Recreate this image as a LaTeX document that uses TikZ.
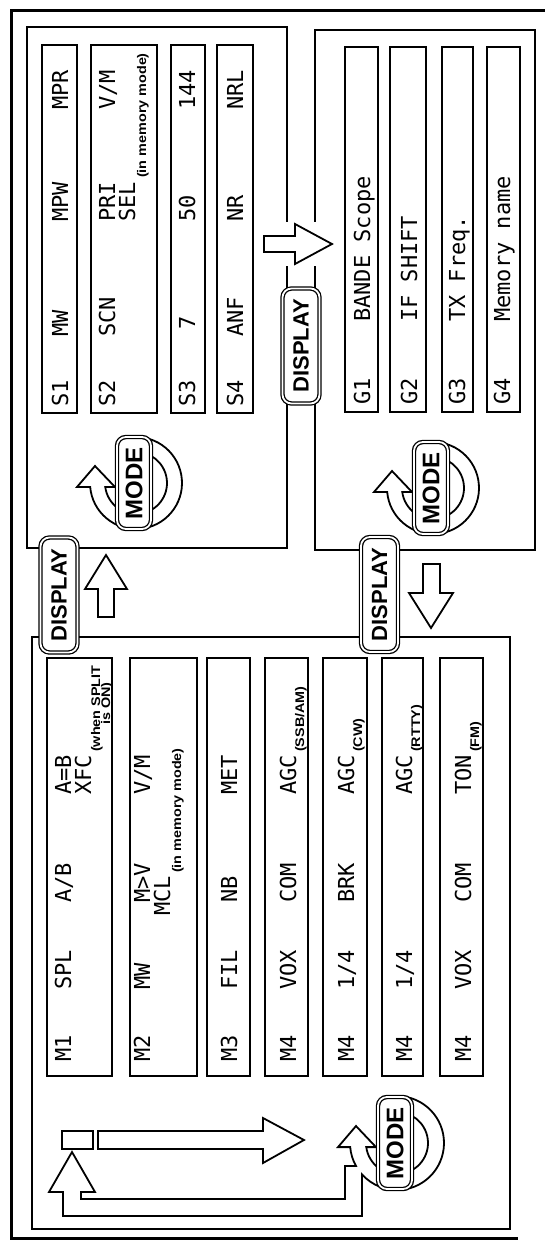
\documentclass[tikz,border=0pt]{standalone}
\usepackage{fontspec}
\newfontfamily\lcdfont{DejaVu Sans Mono}
\newfontfamily\btnfont{Liberation Sans}
\newfontfamily\notefont[FakeStretch=1.15]{Liberation Sans}
\tikzset{
  lcd/.style={rotate=90, anchor=base west, inner sep=0pt, font=\lcdfont\fontsize{22}{22}\selectfont},
  note/.style={rotate=90, anchor=base west, inner sep=0pt, font=\notefont\bfseries\fontsize{12.5}{12.5}\selectfont},
  frame/.style={line width=3pt},
  panel/.style={draw, line width=1.8pt},
  strip/.style={draw, line width=1.6pt},
  blockarrow/.style={draw, fill=white, line width=1.8pt, line join=miter},
  btn/.style={rotate=90, draw, fill=white, line width=1.3pt, double, double distance=1.8pt, rounded corners=9pt, inner sep=0pt, font=\btnfont\bfseries},
  dispbtn/.style={btn, minimum width=115pt, minimum height=37pt, font=\btnfont\bfseries\fontsize{22}{22}\selectfont},
  modebtn/.style={btn, minimum width=92pt, minimum height=34pt, font=\btnfont\bfseries\fontsize{24}{24}\selectfont},
}
\newcommand\lcdat[4]{\node[lcd] (#1) at (#2,-#3) {#4};}
\newcommand\noteat[4]{\node[note] (#1) at (#2,-#3) {#4};}
\newcommand\modering[2]{%
  \draw[blockarrow] (95:#1pt) arc[start angle=95, end angle=-175, radius=#1pt]
    -- (-59,-4) -- (-41,17) -- (-21,-4) -- (-172.6:#2pt)
    arc[start angle=-172.6, end angle=95, radius=#2pt] -- cycle;}

\begin{document}
\begin{tikzpicture}[x=1pt,y=1pt]
\useasboundingbox (0,0) rectangle (545,-1242);
\fill[white] (0,0) rectangle (545,-1242);

% outer frame
\draw[frame] (545,-10) -- (11,-10) -- (11,-1238) -- (518,-1238);

% panels
\draw[panel] (27,-27) rectangle (287,-548);
\draw[panel] (315,-30) rectangle (535,-550);
\draw[panel] (32,-637) rectangle (510,-1229);

% S strips
\draw[strip] (42,-45) rectangle (77,-413);
\draw[strip] (91,-45) rectangle (157,-413);
\draw[strip] (171,-45) rectangle (205,-413);
\draw[strip] (217,-45) rectangle (253,-413);
% G strips
\draw[strip] (345,-47) rectangle (378,-412);
\draw[strip] (390,-47) rectangle (426,-412);
\draw[strip] (442,-47) rectangle (473,-412);
\draw[strip] (487,-47) rectangle (520,-412);
% M strips
\draw[strip] (47,-658) rectangle (112,-1076);
\draw[strip] (130,-658) rectangle (197,-1076);
\draw[strip] (207,-658) rectangle (250,-1076);
\draw[strip] (265,-658) rectangle (308,-1076);
\draw[strip] (323,-658) rectangle (367,-1076);
\draw[strip] (382,-658) rectangle (423,-1076);
\draw[strip] (440,-658) rectangle (483,-1076);

% S texts
\lcdat{sa1}{68}{407}{S1}
\lcdat{sa2}{68}{337}{MW}
\lcdat{sa3}{68}{222}{MPW}
\lcdat{sa4}{68}{110}{MPR}
\lcdat{sb1}{115}{407}{S2}
\lcdat{sb2}{115}{337}{SCN}
\lcdat{sb3}{115}{222}{PRI}
\lcdat{sb4}{115}{110}{V/M}
\lcdat{sb5}{135}{222}{SEL}
\noteat{sb6}{146}{178}{(in memory mode)}
\lcdat{sc1}{195}{407}{S3}
\lcdat{sc2}{195}{330}{7}
\lcdat{sc3}{195}{222}{50}
\lcdat{sc4}{195}{110}{144}
\lcdat{sd1}{243}{407}{S4}
\lcdat{sd2}{243}{337}{ANF}
\lcdat{sd3}{243}{222}{NR}
\lcdat{sd4}{243}{110}{NRL}

% G texts
\lcdat{ga1}{370}{405}{G1}
\lcdat{ga2}{370}{322}{BANDE Scope}
\lcdat{gb1}{417}{405}{G2}
\lcdat{gb2}{417}{322}{IF SHIFT}
\lcdat{gc1}{465}{405}{G3}
\lcdat{gc2}{465}{322}{TX Freq.}
\lcdat{gd1}{510}{405}{G4}
\lcdat{gd2}{510}{322}{Memory name}

% M texts
\lcdat{ma1}{71}{1062}{M1}
\lcdat{ma2}{71}{990}{SPL}
\lcdat{ma3}{71}{903}{A/B}
\lcdat{ma4}{71}{795}{A=B}
\lcdat{ma5}{91}{795}{XFC}
\noteat{ma6}{100}{752}{(when SPLIT}
\noteat{ma7}{110}{725}{is ON)}
\lcdat{mb1}{150}{1062}{M2}
\lcdat{mb2}{150}{990}{MW}
\lcdat{mb3}{150}{903}{M>V}
\lcdat{mb4}{150}{795}{V/M}
\lcdat{mb5}{170}{916}{MCL}
\noteat{mb6}{181}{873}{(in memory mode)}
\lcdat{mc1}{237}{1062}{M3}
\lcdat{mc2}{237}{990}{FIL}
\lcdat{mc3}{237}{903}{NB}
\lcdat{mc4}{237}{795}{MET}
\lcdat{md1}{296}{1062}{M4}
\lcdat{md2}{296}{990}{VOX}
\lcdat{md3}{296}{903}{COM}
\lcdat{md4}{296}{795}{AGC}
\noteat{md5}{304}{752}{(SSB/AM)}
\lcdat{me1}{354}{1062}{M4}
\lcdat{me2}{354}{990}{1/4}
\lcdat{me3}{354}{903}{BRK}
\lcdat{me4}{354}{795}{AGC}
\noteat{me5}{362}{752}{(CW)}
\lcdat{mf1}{412}{1062}{M4}
\lcdat{mf2}{412}{990}{1/4}
\lcdat{mf3}{412}{795}{AGC}
\noteat{mf4}{420}{752}{(RTTY)}
\lcdat{mg1}{471}{1062}{M4}
\lcdat{mg2}{471}{990}{VOX}
\lcdat{mg3}{471}{903}{COM}
\lcdat{mg4}{471}{795}{TON}
\noteat{mg5}{479}{752}{(FM)}

% gap in panel borders for the S->G arrow
\fill[white] (279,-222) rectangle (323,-266);
% S -> G arrow
\draw[blockarrow] (264,-236) -- (295,-236) -- (295,-224) -- (332,-244) -- (295,-264) -- (295,-252) -- (264,-252) -- cycle;
% M -> S arrow (up)
\draw[blockarrow] (98,-617) -- (98,-589) -- (85,-589) -- (106,-555) -- (127,-589) -- (114,-589) -- (114,-617) -- cycle;
% G -> M arrow (down)
\draw[blockarrow] (423,-564) -- (440,-564) -- (440,-593) -- (453,-593) -- (431,-628) -- (409,-593) -- (423,-593) -- cycle;

% DISPLAY buttons
\node[dispbtn] (disp1) at (301,-346) {DISPLAY};
\node[dispbtn] (disp2) at (59,-595) {DISPLAY};
\node[dispbtn] (disp3) at (379.5,-594.5) {DISPLAY};

% MODE symbols in S and G panels
\begin{scope}[shift={(136,-483)}]
  \modering{46}{31}
  \node[modebtn] (modeS) at (-2,0) {MODE};
\end{scope}
\begin{scope}[shift={(433,-488)}]
  \modering{46}{31}
  \node[modebtn] (modeG) at (-2,0) {MODE};
\end{scope}

% M panel: cursor box, long arrow, return path and MODE
\node[draw, line width=1.8pt, minimum width=31pt, minimum height=18pt, inner sep=0pt] (cursor) at (77.5,-1140) {};
\draw[blockarrow] (98,-1131) -- (263,-1131) -- (263,-1118) -- (304,-1140) -- (263,-1163) -- (263,-1149) -- (98,-1149) -- cycle;
\begin{scope}[shift={(397,-1143)}]
  \draw[blockarrow] (95:47pt) arc[start angle=95, end angle=-138.1, radius=47pt]
    -- (-35,-73) -- (-334,-73) -- (-334,-49) -- (-348,-49) -- (-325,-9)
    -- (-302,-49) -- (-316,-49) -- (-316,-56) -- (-52,-56) -- (-52,-23)
    -- (-150.7:47pt) arc[start angle=-150.7, end angle=-175, radius=47pt]
    -- (-59,-4.1) -- (-41,17) -- (-21,-4.1) -- (-172.4:31pt)
    arc[start angle=-172.4, end angle=95, radius=31pt] -- cycle;
  \node[modebtn] (modeM) at (-2,0) {MODE};
\end{scope}
\end{tikzpicture}
\end{document}
